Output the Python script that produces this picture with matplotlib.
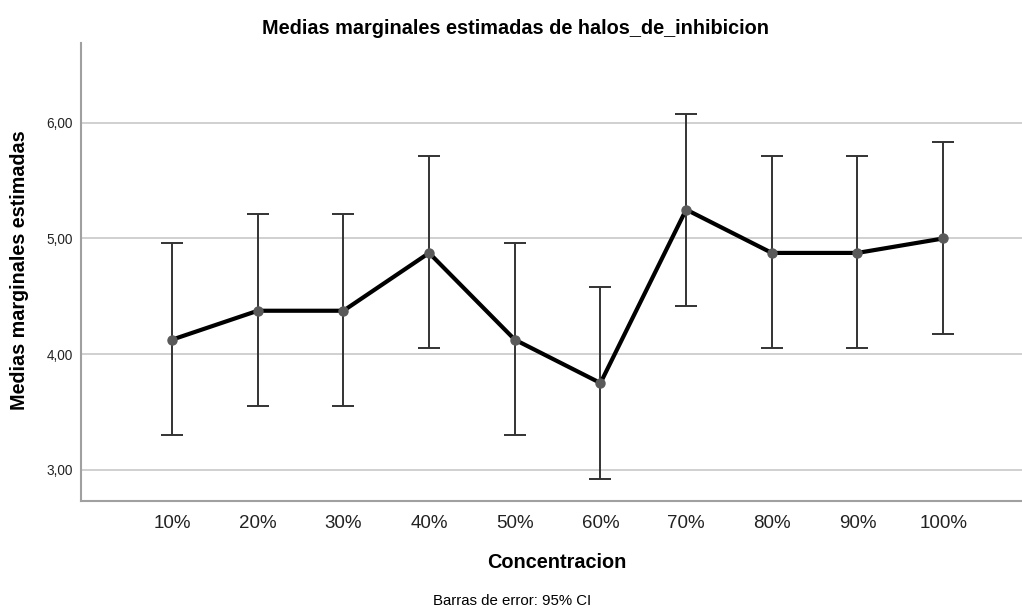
import numpy as np
import matplotlib.pyplot as plt

plt.rcParams['font.family'] = ['Liberation Sans', 'DejaVu Sans']

# datos
concentracion = ['10%', '20%', '30%', '40%', '50%', '60%', '70%', '80%', '90%', '100%']
medias = [4.125, 4.375, 4.375, 4.875, 4.125, 3.75, 5.25, 4.875, 4.875, 5.0]
ic_inf = [3.30, 3.55, 3.55, 4.05, 3.30, 2.92, 4.42, 4.05, 4.05, 4.17]
ic_sup = [4.96, 5.21, 5.21, 5.71, 4.96, 4.58, 6.08, 5.71, 5.71, 5.83]
yticks = [3.0, 4.0, 5.0, 6.0]

x = np.arange(1, len(concentracion) + 1)
medias = np.array(medias)
err = [medias - np.array(ic_inf), np.array(ic_sup) - medias]

fig = plt.figure(figsize=(10.22, 6.08), dpi=100)
ax = fig.add_axes([81 / 1022, 1 - 501 / 608, 1 - 81 / 1022, (501 - 43) / 608])

for yt in yticks:
    ax.axhline(yt, color='#c8c8c8', lw=1.2, zorder=0)

ax.errorbar(x, medias, yerr=err, fmt='none', ecolor='#333333', elinewidth=1.4,
            capsize=8, capthick=1.4, zorder=2)
ax.plot(x, medias, color='black', lw=3, zorder=3)
ax.plot(x, medias, 'o', color='#5a5a5a', ms=6.5, zorder=4)

ax.set_xlim(1 - 1.063, 10 + 0.92)
ax.set_ylim(2.73, 6.69)
ax.set_xticks(x)
ax.set_xticklabels(concentracion, fontsize=13.5, color='#222222')
ax.set_yticks(yticks)
ax.set_yticklabels([f'{v:.2f}'.replace('.', ',') for v in yticks], fontsize=9.8, color='#222222')
ax.tick_params(length=0, pad=6)
ax.tick_params(axis='x', pad=10)

for s in ['top', 'right']:
    ax.spines[s].set_visible(False)
for s in ['left', 'bottom']:
    ax.spines[s].set_color('#a0a0a0')
    ax.spines[s].set_linewidth(1.5)

fig.text(516 / 1022, 1 - 29 / 608, 'Medias marginales estimadas de halos_de_inhibicion',
         ha='center', va='center', fontsize=14.3, fontweight='bold')
fig.text(20 / 1022, 1 - 270 / 608, 'Medias marginales estimadas', rotation=90,
         ha='center', va='center', fontsize=14.2, fontweight='bold')
fig.text(557 / 1022, 1 - 562 / 608, 'Concentracion', ha='center', va='center',
         fontsize=14.3, fontweight='bold')
fig.text(512 / 1022, 1 - 601 / 608, 'Barras de error: 95% CI', ha='center', va='center',
         fontsize=10.8)

fig.savefig('out.png', dpi=100)
